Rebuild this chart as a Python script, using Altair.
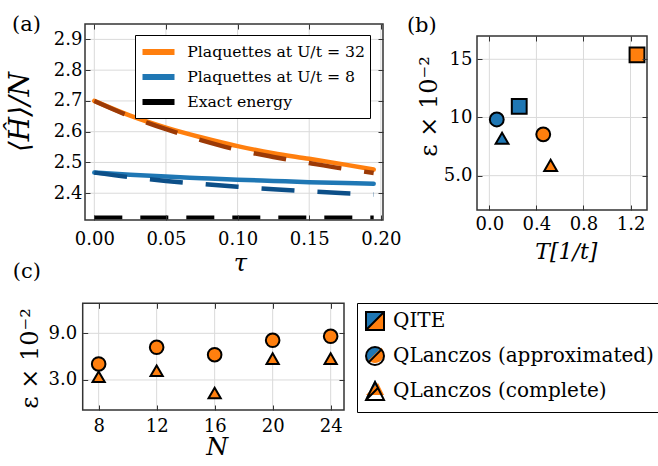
import altair as alt
import pandas as pd

W, H = 658, 466
FONT = "DejaVu Serif"
BLUE, ORANGE = "#1f77b4", "#ff7f0e"
DRED, DBLUE = "#9c3a06", "#0c4f88"
GRID, FRAME = "#dadada", "#333333"

# ---------------- data: panel (a) ----------------
tau = [0.0, 0.025, 0.05, 0.075, 0.10, 0.125, 0.15, 0.175, 0.195]
plaq_u32 = [2.700, 2.652, 2.613, 2.581, 2.553, 2.530, 2.512, 2.493, 2.477]
plaq_u32_dash = [2.700, 2.650, 2.608, 2.572, 2.541, 2.518, 2.498, 2.479, 2.466]
plaq_u8 = [2.467, 2.460, 2.454, 2.449, 2.444, 2.440, 2.436, 2.433, 2.431]
plaq_u8_dash = [2.467, 2.452, 2.440, 2.430, 2.421, 2.413, 2.406, 2.400, 2.396]
exact_tau = [0.0, 0.195]
exact_energy = [2.321, 2.321]
a_xticks = [0.0, 0.05, 0.10, 0.15, 0.20]
a_yticks = [2.4, 2.5, 2.6, 2.7, 2.8, 2.9]
a_xdom = [-0.0065, 0.2015]
a_ydom = [2.313, 2.95]

S32 = "Plaquettes at U/t = 32"
S8 = "Plaquettes at U/t = 8"
EX = "Exact energy"
D32 = "dashed U/t = 32"
D8 = "dashed U/t = 8"

# ---------------- data: panel (b) ----------------
methods = ["QITE", "QLanczos (approximated)", "QLanczos (complete)"]
b_T = [0.254, 1.255, 0.063, 0.458, 0.108, 0.521]
b_eps = [10.95, 15.38, 9.83, 8.55, 8.22, 5.88]
b_U = ["U/t = 8", "U/t = 32", "U/t = 8", "U/t = 32", "U/t = 8", "U/t = 32"]
b_method = [methods[0], methods[0], methods[1], methods[1], methods[2], methods[2]]
b_xticks = [0.0, 0.4, 0.8, 1.2]
b_yticks = [5, 10, 15]
b_ylabels = ["5.0", "10", "15"]
b_xdom = [-0.105, 1.34]
b_ydom = [2.05, 17.0]

# ---------------- data: panel (c) ----------------
c_N = [8, 12, 16, 20, 24]
c_approx = [5.06, 7.20, 6.25, 8.10, 8.62]
c_complete = [3.42, 4.18, 1.33, 5.74, 5.74]
c_xticks = [8, 12, 16, 20, 24]
c_yticks = [3.0, 9.0]
c_xdom = [6.9, 24.92]
c_ydom = [-0.86, 12.86]

# ---------------- layout (pixel placement of panels) ----------------
A_X, A_Y = [85, 383], [220, 24]
B_X, B_Y = [477, 647], [210, 36]
C_X, C_Y = [82.7, 344], [410, 303.3]
TK = 5


def axis(orient, values, pos, labels=True, fmt=None, label_expr=None, pad=3,
         title=None, tsize=20, tstyle="normal", tx=0, ty=0, tangle=0):
    # pos: absolute pixel of the axis line
    if orient == "bottom":
        off = pos - H
    elif orient == "top":
        off = -pos
    elif orient == "left":
        off = -pos
    else:
        off = pos - W
    kw = dict(orient=orient, values=values, offset=off, domain=False, grid=False,
              ticks=True, tickSize=TK, tickColor=FRAME, tickWidth=1, zindex=1,
              labels=labels, labelFlush=False, labelOverlap=False, labelFont=FONT,
              labelFontSize=18, labelColor="black", labelPadding=pad)
    if fmt:
        kw["format"] = fmt
    if label_expr:
        kw["labelExpr"] = label_expr
    if title is None:
        kw["title"] = None
    else:
        kw.update(title=title, titleFont=FONT, titleFontSize=tsize, titleFontStyle=tstyle,
                  titleFontWeight="normal", titleColor="black", titleAlign="center",
                  titleBaseline="alphabetic", titleX=tx, titleY=ty, titleAngle=tangle)
    return alt.Axis(**kw)


def grid_frame(sx, sy, xdom, ydom, xticks, yticks, top_axis, right_axis):
    hg = pd.DataFrame({"v": yticks, "lo": xdom[0], "hi": xdom[1]})
    vg = pd.DataFrame({"v": xticks, "lo": ydom[0], "hi": ydom[1]})
    fr = pd.DataFrame({"x0": [xdom[0]], "x1": [xdom[1]], "y0": [ydom[0]], "y1": [ydom[1]]})
    hgrid = alt.Chart(hg).mark_rule(color=GRID, strokeWidth=1).encode(
        y=alt.Y("v:Q", scale=sy, axis=None),
        x=alt.X("lo:Q", scale=sx, axis=None), x2="hi:Q")
    vgrid = alt.Chart(vg).mark_rule(color=GRID, strokeWidth=1).encode(
        x=alt.X("v:Q", scale=sx, axis=top_axis),
        y=alt.Y("lo:Q", scale=sy, axis=right_axis), y2="hi:Q")
    frame = alt.Chart(fr).mark_rect(filled=False, color=FRAME, strokeWidth=1.5).encode(
        x=alt.X("x0:Q", scale=sx, axis=None), x2="x1:Q",
        y=alt.Y("y0:Q", scale=sy, axis=None), y2="y1:Q")
    return hgrid, vgrid, frame


# ================= panel (a) =================
sxA = alt.Scale(domain=a_xdom, range=A_X, nice=False, zero=False)
syA = alt.Scale(domain=a_ydom, range=A_Y, nice=False, zero=False)
hgA, vgA, frA = grid_frame(
    sxA, syA, a_xdom, a_ydom, a_xticks, a_yticks,
    axis("top", a_xticks, A_Y[1] + TK, labels=False, title="(a)", tsize=21, tx=26, ty=30 - (A_Y[1] + TK)),
    axis("right", a_yticks, A_X[1] - TK, labels=False))

solid_df = pd.concat([pd.DataFrame({"tau": tau, "E": plaq_u32, "s": S32}),
                      pd.DataFrame({"tau": tau, "E": plaq_u8, "s": S8})])
dash_df = pd.concat([pd.DataFrame({"tau": tau, "E": plaq_u32_dash, "s": D32}),
                     pd.DataFrame({"tau": tau, "E": plaq_u8_dash, "s": D8})])
exact_df = pd.DataFrame({"tau": exact_tau, "E": exact_energy, "s": EX})

cscale = alt.Scale(domain=[S32, S8, EX, D32, D8], range=[ORANGE, BLUE, "black", DRED, DBLUE])
legA = alt.Legend(orient="none", legendX=135, legendY=35, title=None, values=[S32, S8, EX],
                  symbolType="M-1.6,0H1.6", symbolSize=400, symbolStrokeWidth=6, symbolOpacity=1,
                  symbolOffset=6.5, labelFont=FONT, labelFontSize=15.7, labelColor="black",
                  labelLimit=400, labelOffset=15.7, rowPadding=-6, padding=4,
                  strokeColor="black", fillColor="white", cornerRadius=0, zindex=2)

solidA = alt.Chart(solid_df).mark_line(strokeWidth=4.5, interpolate="monotone", strokeCap="round").encode(
    x=alt.X("tau:Q", scale=sxA,
            axis=axis("bottom", a_xticks, A_Y[0] - TK, fmt=".2f", pad=10, title="τ", tsize=24,
                      tstyle="italic", tx=240, ty=270 - (A_Y[0] - TK))),
    y=alt.Y("E:Q", scale=syA,
            axis=axis("left", a_yticks, A_X[0] + TK, fmt=".1f", pad=3, title="⟨Ĥ⟩/N", tsize=28,
                      tstyle="italic", tx=28 - (A_X[0] + TK), ty=111.5, tangle=270)),
    color=alt.Color("s:N", scale=cscale, legend=legA))
dashA = alt.Chart(dash_df).mark_line(strokeWidth=4.5, interpolate="monotone", strokeDash=[33, 23]).encode(
    x=alt.X("tau:Q", scale=sxA, axis=None), y=alt.Y("E:Q", scale=syA, axis=None),
    color=alt.Color("s:N", scale=cscale, legend=None))
exactA = alt.Chart(exact_df).mark_line(strokeWidth=4, strokeDash=[28, 18]).encode(
    x=alt.X("tau:Q", scale=sxA, axis=None), y=alt.Y("E:Q", scale=syA, axis=None),
    color=alt.Color("s:N", scale=cscale, legend=None))

panelA = alt.layer(hgA, vgA, solidA, dashA, exactA, frA).resolve_axis(x="independent", y="independent")

# ================= panel (b) =================
sxB = alt.Scale(domain=b_xdom, range=B_X, nice=False, zero=False)
syB = alt.Scale(domain=b_ydom, range=B_Y, nice=False, zero=False)
hgB, vgB, frB = grid_frame(
    sxB, syB, b_xdom, b_ydom, b_xticks, b_yticks,
    axis("top", b_xticks, B_Y[1] + TK, labels=False, title="(b)", tsize=21, tx=421.3,
         ty=31.5 - (B_Y[1] + TK)),
    axis("right", b_yticks, B_X[1] - TK, labels=False))

b_df = pd.DataFrame({"T": b_T, "eps": b_eps, "U": b_U, "method": b_method})
b_lab = "[" + ",".join("'%s'" % s for s in b_ylabels) + "][indexof(" + str(b_yticks) + ", datum.value)]"
shape_std = alt.Scale(domain=methods, range=["square", "circle", "triangle-up"])
ptsB = alt.Chart(b_df).mark_point(filled=True, stroke="black", strokeWidth=2, opacity=1).encode(
    x=alt.X("T:Q", scale=sxB,
            axis=axis("bottom", b_xticks, B_Y[0] - TK, fmt=".1f", pad=5, title="T[1/t]", tsize=22,
                      tstyle="italic", tx=565.8, ty=258 - (B_Y[0] - TK))),
    y=alt.Y("eps:Q", scale=syB,
            axis=axis("left", b_yticks, B_X[0] + TK, label_expr=b_lab, pad=5, title="ε × 10⁻²",
                      tsize=24, tx=436.5 - (B_X[0] + TK), ty=106, tangle=270)),
    color=alt.Color("U:N", scale=alt.Scale(domain=["U/t = 8", "U/t = 32"], range=[BLUE, ORANGE]), legend=None),
    shape=alt.Shape("method:N", scale=shape_std, legend=None),
    size=alt.Size("method:N", scale=alt.Scale(domain=methods, range=[220, 165, 290]), legend=None))

panelB = alt.layer(hgB, vgB, ptsB, frB).resolve_axis(x="independent", y="independent")

# ================= panel (c) =================
sxC = alt.Scale(domain=c_xdom, range=C_X, nice=False, zero=False)
syC = alt.Scale(domain=c_ydom, range=C_Y, nice=False, zero=False)
hgC, vgC, frC = grid_frame(
    sxC, syC, c_xdom, c_ydom, c_xticks, c_yticks,
    axis("top", c_xticks, C_Y[1] + TK, labels=False, title="(c)", tsize=21, tx=26.3,
         ty=277 - (C_Y[1] + TK)),
    axis("right", c_yticks, C_X[1] - TK, labels=False))

c_df = pd.concat([pd.DataFrame({"N": c_N, "eps": c_approx, "method": methods[1]}),
                  pd.DataFrame({"N": c_N, "eps": c_complete, "method": methods[2]})])
ptsC = alt.Chart(c_df).mark_point(filled=True, color=ORANGE, stroke="black", strokeWidth=2, opacity=1).encode(
    x=alt.X("N:Q", scale=sxC,
            axis=axis("bottom", c_xticks, C_Y[0] - TK, fmt="d", pad=7.5, title="N", tsize=25,
                      tstyle="italic", tx=216.7, ty=454 - (C_Y[0] - TK))),
    y=alt.Y("eps:Q", scale=syC,
            axis=axis("left", c_yticks, C_X[0] + TK, fmt=".1f", pad=6, title="ε × 10⁻²",
                      tsize=24, tx=38 - (C_X[0] + TK), ty=358, tangle=270)),
    shape=alt.Shape("method:N", scale=shape_std, legend=None),
    size=alt.Size("method:N", scale=alt.Scale(domain=methods, range=[220, 150, 290]), legend=None))

panelC = alt.layer(hgC, vgC, ptsC, frC).resolve_axis(x="independent", y="independent")

# ================= shared legend (methods, split colours) =================
SQ_UL, SQ_LR, SQ_OUT = "M-1,-1L1,-1L-1,1Z", "M1,-1L1,1L-1,1Z", "M-1,-1H1V1H-1Z M-1,1L1,-1"
CI_UL = "M-0.7071,0.7071A1,1,0,0,1,0.7071,-0.7071Z"
CI_LR = "M0.7071,-0.7071A1,1,0,0,1,-0.7071,0.7071Z"
CI_OUT = "M-1,0A1,1,0,1,1,1,0A1,1,0,1,1,-1,0Z M-0.7071,0.7071L0.7071,-0.7071"
TR_UL, TR_LR = "M-1,1L0,-1L0.3333,-0.3333Z", "M-1,1L0.3333,-0.3333L1,1Z"
TR_OUT = "M0,-1L1,1L-1,1Z M-1,1L0.3333,-0.3333"

meth_df = pd.DataFrame({"method": methods})


def leg_layer(paths, filled, col, labcol, stroke_col=None, z=3):
    lkw = dict(orient="none", legendX=357, legendY=303, title=None, symbolSize=324,
               symbolStrokeWidth=2, symbolOpacity=1, labelFont=FONT, labelFontSize=20,
               labelColor=labcol, labelLimit=400, labelOffset=8, rowPadding=9, padding=8,
               cornerRadius=0, zindex=z)
    if filled:
        lkw["symbolFillColor"] = col
        lkw["symbolStrokeColor"] = "transparent"
        mk = dict(filled=True, fill=col, stroke="transparent", strokeWidth=2, opacity=1)
    else:
        lkw["symbolStrokeColor"] = col
        mk = dict(filled=False, color=col, strokeWidth=2, opacity=1)
    if stroke_col:
        lkw["strokeColor"] = stroke_col
    return alt.Chart(meth_df).transform_filter("false").mark_point(**mk).encode(
        shape=alt.Shape("method:N", scale=alt.Scale(domain=methods, range=paths), legend=alt.Legend(**lkw)))


legBlue = leg_layer([SQ_UL, CI_UL, TR_UL], True, BLUE, "transparent", z=2)
legOrange = leg_layer([SQ_LR, CI_LR, TR_LR], True, ORANGE, "transparent", z=2)
legOut = leg_layer([SQ_OUT, CI_OUT, TR_OUT], False, "black", "black", stroke_col="black", z=3)

chart = alt.layer(panelA, panelB, panelC, legBlue, legOrange, legOut).resolve_scale(
    x="independent", y="independent", color="independent", shape="independent", size="independent"
).properties(width=W, height=H, autosize=alt.AutoSizeParams(type="none"), padding=0,
             background="white").configure_view(stroke=None)

chart.save("out.html", embed_options={"renderer": "svg", "actions": False})
